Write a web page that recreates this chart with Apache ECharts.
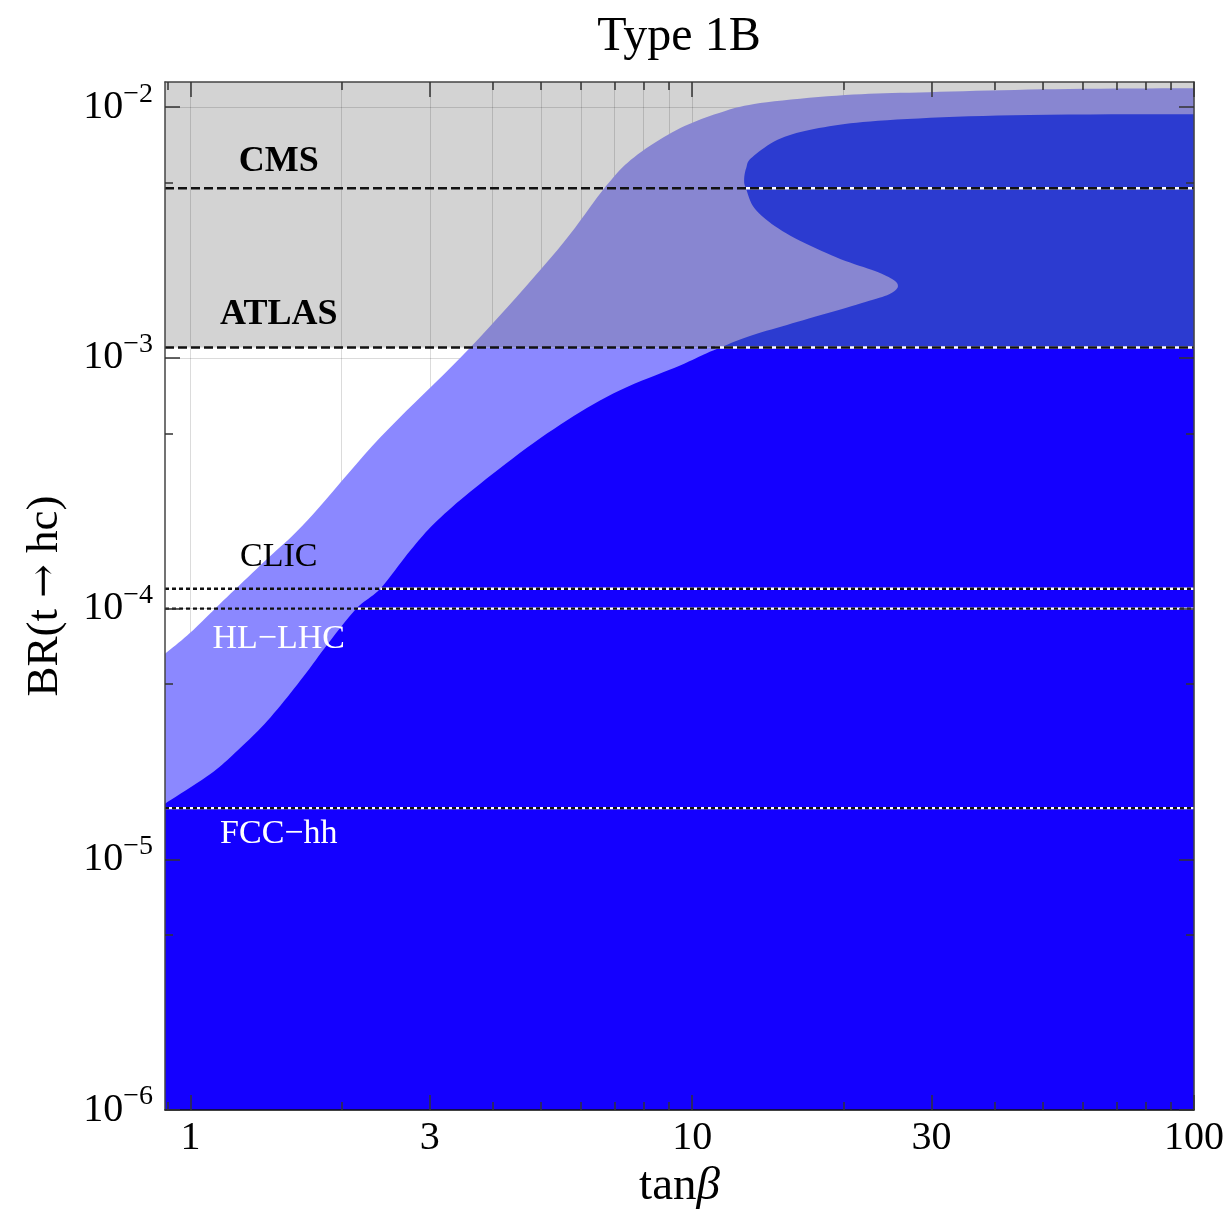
<!DOCTYPE html>
<html>
<head>
<meta charset="utf-8">
<script src="https://cdn.jsdelivr.net/npm/echarts@6/dist/echarts.min.js"></script>
<style>
html, body { margin: 0; padding: 0; background: #fff; }
#chart { width: 1230px; height: 1219px; }
</style>
</head>
<body>
<div id="chart"></div>
<script>
// axis ranges
var tanbMin = 0.89, tanbMax = 100;
var brMin = 1e-6, brMax = 0.0126;

var xMajorTicks = [1, 3, 10, 30, 100];
var xMinorTicks = [0.9, 2, 4, 5, 6, 7, 8, 9, 20, 40, 50, 60, 70, 80, 90];
var xGridValues = [1, 2, 3, 4, 5, 6, 7, 8, 9, 10, 20, 30, 40, 50, 60, 70, 80, 90, 100];
var yMajorTicks = [1e-6, 1e-5, 1e-4, 1e-3, 1e-2];
var yMinorTicks = [5e-6, 5e-5, 5e-4, 5e-3];

// upper edge of the light band
var upperTanb = [0.89, 1.0, 1.163, 1.411, 1.710, 2.391, 3.612, 5.383, 6.709, 7.664, 9.29, 11.27, 13.66, 20.17, 29.65, 52.9, 100];
var upperBR = [6.61e-5, 8.02e-5, 1.076e-4, 1.555e-4, 2.245e-4, 4.82e-4, 1.10e-3, 2.69e-3, 4.80e-3, 6.32e-3, 8.09e-3, 9.46e-3, 1.038e-2, 1.117e-2, 1.148e-2, 1.18e-2, 1.19e-2];

// edge of the dark region (S shape at large tanb)
var lowerTanb = [0.89, 1.096, 1.240, 1.424, 1.656, 1.900, 2.151, 2.391, 2.743, 3.105, 3.782, 5.143, 6.960, 9.46, 11.01, 13.17, 16.64, 21.71, 24.91, 25.61, 23.48, 19.36, 15.39, 13.41, 12.81, 12.69, 12.81, 13.17, 15.04, 18.32, 24.46, 43.6, 100];
var lowerBR = [1.667e-5, 2.19e-5, 2.71e-5, 3.57e-5, 5.16e-5, 7.45e-5, 1.009e-4, 1.202e-4, 1.705e-4, 2.245e-4, 3.15e-4, 5.0e-4, 7.21e-4, 9.33e-4, 1.071e-3, 1.230e-3, 1.413e-3, 1.651e-3, 1.81e-3, 1.983e-3, 2.194e-3, 2.518e-3, 3.14e-3, 3.88e-3, 4.71e-3, 5.11e-3, 5.71e-3, 6.32e-3, 7.52e-3, 8.32e-3, 8.87e-3, 9.29e-3, 9.38e-3];

// experimental limits
var limitNames = ['CMS', 'ATLAS', 'CLIC', 'HL−LHC', 'FCC−hh'];
var limitBR = [4.75e-3, 1.1e-3, 1.2e-4, 1.0e-4, 1.6e-5];
var limitWhiteFrom = [12.8, 11.1, 2.39, 2.15, 0.89];
var limitDash = [[9, 4], [9, 4], [4, 3], [4, 3], [4, 3]];
var labelTanb = [1.5, 1.5, 1.5, 1.5, 1.5];
var labelBR = [6.05e-3, 1.48e-3, 1.61e-4, 7.59e-5, 1.26e-5];
var labelBold = [true, true, false, false, false];
var labelColor = ['#000', '#000', '#000', '#fff', '#fff'];

var atlasBR = limitBR[1];
var serif = '"Liberation Serif", "DejaVu Serif", serif';
var lg = Math.log10;

// keep the part of a polygon above (or below) a horizontal pixel line
function clipAtY(pts, yc, keepAbove) {
    var out = [];
    for (var i = 0; i < pts.length; i++) {
        var a = pts[i], b = pts[(i + 1) % pts.length];
        var ina = keepAbove ? a[1] <= yc : a[1] >= yc;
        var inb = keepAbove ? b[1] <= yc : b[1] >= yc;
        if (ina) out.push(a);
        if (ina !== inb) {
            var t = (yc - a[1]) / (b[1] - a[1]);
            out.push([a[0] + t * (b[0] - a[0]), yc]);
        }
    }
    return out;
}

// draw the edge as a smooth curve through the read points (pixel space)
function smoothCurve(pts, steps) {
    var out = [pts[0]];
    var n = pts.length;
    for (var i = 0; i < n - 1; i++) {
        var p0 = pts[i > 0 ? i - 1 : 0], p1 = pts[i], p2 = pts[i + 1], p3 = pts[i + 2 < n ? i + 2 : n - 1];
        var c1 = [p1[0] + (p2[0] - p0[0]) / 6, p1[1] + (p2[1] - p0[1]) / 6];
        var c2 = [p2[0] - (p3[0] - p1[0]) / 6, p2[1] - (p3[1] - p1[1]) / 6];
        for (var s = 1; s <= steps; s++) {
            var t = s / steps, u = 1 - t;
            var a = u * u * u, b = 3 * u * u * t, c = 3 * u * t * t, d = t * t * t;
            out.push([
                a * p1[0] + b * c1[0] + c * c2[0] + d * p2[0],
                a * p1[1] + b * c1[1] + c * c2[1] + d * p2[1]
            ]);
        }
    }
    return out;
}

function toPixels(api, tl, bl) {
    return tl.map(function (t, i) { return api.coord([lg(t), lg(bl[i])]); });
}

function renderExcluded(params, api) {
    var cs = params.coordSys;
    var yCut = api.coord([0, lg(atlasBR)])[1];
    return {
        type: 'rect',
        shape: { x: cs.x, y: cs.y, width: cs.width, height: yCut - cs.y },
        style: { fill: '#d3d3d3' }
    };
}

function renderBands(params, api) {
    var cs = params.coordSys;
    var left = cs.x, right = cs.x + cs.width, bottom = cs.y + cs.height;
    var yCut = api.coord([0, lg(atlasBR)])[1];
    var upper = smoothCurve(toPixels(api, upperTanb, upperBR), 10).concat([[right, bottom], [left, bottom]]);
    var lower = smoothCurve(toPixels(api, lowerTanb, lowerBR), 10).concat([[right, bottom], [left, bottom]]);
    var parts = [
        [upper, false, '#8b88ff'],
        [upper, true, '#8886d1'],
        [lower, false, '#1400ff'],
        [lower, true, '#2c3bd0']
    ];
    return {
        type: 'group',
        children: parts.map(function (p) {
            return {
                type: 'polygon',
                shape: { points: clipAtY(p[0], yCut, p[1]) },
                style: { fill: p[2] }
            };
        })
    };
}

function tickAxis(pos, values, len, extra) {
    var isX = pos === 'bottom' || pos === 'top';
    var ax = {
        type: 'value',
        position: pos,
        min: isX ? lg(tanbMin) : lg(brMin),
        max: isX ? lg(tanbMax) : lg(brMax),
        z: 7,
        axisLine: { show: false, onZero: false },
        axisTick: {
            show: true, inside: true, length: len,
            customValues: values.map(lg),
            lineStyle: { color: '#333', width: 1.5 }
        },
        axisLabel: { show: false },
        splitLine: { show: false }
    };
    return Object.assign(ax, extra || {});
}

var chart = echarts.init(document.getElementById('chart'));

var frameLine = { show: true, onZero: false, lineStyle: { color: '#444', width: 1.5 } };

var xAxes = [
    tickAxis('bottom', xMajorTicks, 15, {
        axisLine: { show: true, onZero: false, lineStyle: { color: '#111', width: 1.5 } },
        axisLabel: {
            show: true,
            customValues: xMajorTicks.map(lg),
            formatter: function (v) { return String(Math.round(Math.pow(10, v))); },
            margin: 8,
            fontSize: 40,
            fontFamily: serif,
            color: '#000'
        },
        name: '{n|tan}{b|β}',
        nameLocation: 'middle',
        nameGap: 52,
        nameTextStyle: {
            rich: {
                n: { fontSize: 47, fontFamily: serif, color: '#000' },
                b: { fontSize: 47, fontFamily: serif, fontStyle: 'italic', color: '#000' }
            }
        }
    }),
    tickAxis('bottom', xMinorTicks, 8),
    tickAxis('top', xMajorTicks, 15, { axisLine: frameLine }),
    tickAxis('top', xMinorTicks, 8),
    tickAxis('bottom', xGridValues, 0, {
        z: 2,
        axisTick: { show: false, customValues: xGridValues.map(lg) },
        splitLine: { show: true, lineStyle: { color: 'rgba(0,0,0,0.14)', width: 1 } }
    })
];

var yAxes = [
    tickAxis('left', yMajorTicks, 15, {
        axisLine: frameLine,
        axisLabel: {
            show: true,
            customValues: yMajorTicks.map(lg),
            formatter: function (v) { return '10{s|−' + (-Math.round(v)) + '}'; },
            margin: 12,
            fontSize: 40,
            fontFamily: serif,
            color: '#000',
            rich: { s: { fontSize: 28, fontFamily: serif, color: '#000', padding: [0, 0, 26, 0] } }
        },
        name: '{t|BR(t }{a|→}{t| hc)}',
        nameLocation: 'middle',
        nameGap: 97,
        nameTextStyle: {
            rich: {
                t: { fontSize: 45, fontFamily: serif, color: '#000' },
                a: { fontSize: 40, fontFamily: '"DejaVu Serif", serif', color: '#000' }
            }
        }
    }),
    tickAxis('left', yMinorTicks, 8),
    tickAxis('right', yMajorTicks, 15, { axisLine: frameLine }),
    tickAxis('right', yMinorTicks, 8),
    tickAxis('left', yMajorTicks, 0, {
        z: 2,
        axisTick: { show: false, customValues: yMajorTicks.map(lg) },
        splitLine: { show: true, lineStyle: { color: 'rgba(0,0,0,0.14)', width: 1 } }
    })
];

var series = [
    { type: 'custom', name: 'excluded', z: 1, silent: true, renderItem: renderExcluded, data: [[0, -3]] },
    { type: 'custom', name: 'bands', z: 3, silent: true, renderItem: renderBands, data: [[0, -3]] }
];

limitBR.forEach(function (br, i) {
    series.push({
        type: 'line', z: 4, silent: true, symbol: 'none',
        lineStyle: { color: '#fff', width: 2.4, type: 'solid' },
        data: [[lg(limitWhiteFrom[i]), lg(br)], [lg(tanbMax), lg(br)]]
    });
    series.push({
        type: 'line', z: 5, silent: true, symbol: 'none',
        lineStyle: { color: '#111', width: 2.4, type: limitDash[i] },
        data: [[lg(tanbMin), lg(br)], [lg(tanbMax), lg(br)]]
    });
});

series.push({
    type: 'scatter', z: 6, silent: true, symbolSize: 0,
    itemStyle: { opacity: 1 },
    data: limitNames.map(function (n, i) {
        return {
            name: n,
            value: [lg(labelTanb[i]), lg(labelBR[i])],
            label: {
                show: true, position: 'inside', formatter: '{b}',
                fontSize: labelBold[i] ? 36 : 34,
                fontWeight: labelBold[i] ? 'bold' : 'normal',
                fontFamily: serif,
                color: labelColor[i],
                opacity: 1
            }
        };
    })
});

chart.setOption({
    animation: false,
    backgroundColor: '#fff',
    grid: { left: 165, right: 36, top: 82, bottom: 109, containLabel: false, outerBoundsMode: 'none' },
    xAxis: xAxes,
    yAxis: yAxes,
    graphic: [{
        type: 'text', x: 679, y: 37, z: 10,
        style: {
            text: 'Type 1B', fill: '#000', align: 'center', verticalAlign: 'middle',
            font: '48px ' + serif
        }
    }],
    series: series
});
</script>
</body>
</html>
